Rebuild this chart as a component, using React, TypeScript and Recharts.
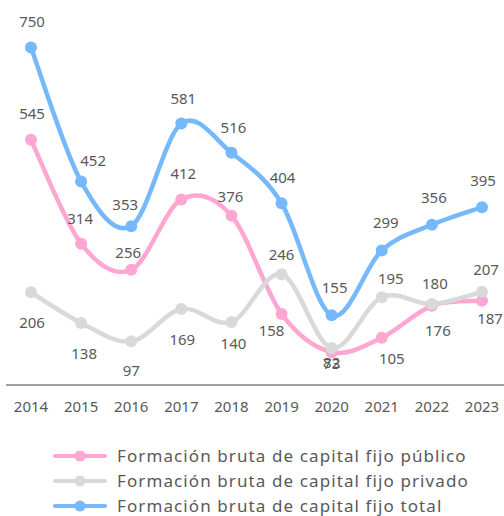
import React from 'react';
import { LineChart, Line, XAxis, YAxis, LabelList } from 'recharts';

const years = ['2014', '2015', '2016', '2017', '2018', '2019', '2020', '2021', '2022', '2023'];
const publico = [545, 314, 256, 412, 376, 158, 73, 105, 176, 187];
const privado = [206, 138, 97, 169, 140, 246, 82, 195, 180, 207];
const total = [750, 452, 353, 581, 516, 404, 155, 299, 356, 395];
const seriesNames = [
  'Formación bruta de capital fijo público',
  'Formación bruta de capital fijo privado',
  'Formación bruta de capital fijo total',
];

// label placement offsets (dx, dy) relative to each point
const pubLabelOffsets = [[1, -27], [-1, -26], [-3, -18], [2, -27], [-1, -20], [-10, 16], [0, 11], [10, 20], [6, 24], [8, 17]];
const privLabelOffsets = [[1, 30], [3, 30], [0, 29], [1, 30], [2, 21], [0, -20], [0, 14], [9, -19], [3, -21], [4, -23]];
const totLabelOffsets = [[1, -27], [12, -22], [-6, -22], [2, -26], [2, -26], [1, -26], [3, -28], [4, -28], [2, -28], [1, -27]];

const data = years.map((y, i) => ({ year: y, publico: publico[i], privado: privado[i], total: total[i] }));

const COLORS = ['#FFA6D3', '#D9D9D9', '#76B8FC'];
const TEXT = '#595959';
const FONT = '"Noto Sans", sans-serif';

// Catmull-Rom style smoothing (similar to spreadsheet smoothed lines)
const smoothCurve: any = (context: any) => {
  let pts: number[][] = [];
  return {
    areaStart() {},
    areaEnd() {},
    lineStart() { pts = []; },
    point(x: number, y: number) { pts.push([+x, +y]); },
    lineEnd() {
      if (!pts.length) return;
      context.moveTo(pts[0][0], pts[0][1]);
      const k = 1 / 6;
      for (let i = 0; i < pts.length - 1; i++) {
        const p0 = pts[i - 1] || pts[i];
        const p1 = pts[i];
        const p2 = pts[i + 1];
        const p3 = pts[i + 2] || pts[i + 1];
        context.bezierCurveTo(
          p1[0] + (p2[0] - p0[0]) * k, p1[1] + (p2[1] - p0[1]) * k,
          p2[0] - (p3[0] - p1[0]) * k, p2[1] - (p3[1] - p1[1]) * k,
          p2[0], p2[1]
        );
      }
    },
  };
};

const makeLabel = (offsets: number[][]) => (props: any) => {
  const { x, y, value, index } = props;
  const [dx, dy] = offsets[index] || [0, -20];
  return (
    <text x={x + dx} y={y + dy} textAnchor="middle" dominantBaseline="central" fill={TEXT} fontSize={15} fontFamily={FONT}>
      {value}
    </text>
  );
};

const LegendBox = () => (
  <div style={{ position: 'absolute', left: 53, top: 443, fontFamily: FONT, fontSize: 17, letterSpacing: 1.1, color: TEXT }}>
    {seriesNames.map((n, i) => (
      <div key={n} style={{ display: 'flex', alignItems: 'center', height: 25, whiteSpace: 'nowrap' }}>
        <svg width={54} height={12} style={{ marginRight: 10 }}>
          <line x1={2} y1={6} x2={52} y2={6} stroke={COLORS[i]} strokeWidth={4} strokeLinecap="round" />
          <circle cx={27} cy={6} r={5.5} fill={COLORS[i]} />
        </svg>
        <span>{n}</span>
      </div>
    ))}
  </div>
);

export default function App() {
  return (
    <div style={{ position: 'absolute', left: 0, top: 0, width: 504, height: 516, background: '#fff' }}>
      <LineChart width={504} height={516} data={data} margin={{ top: 25, right: 0, bottom: 0, left: 6 }}>
        <XAxis
          dataKey="year"
          height={131}
          tickSize={0}
          tickMargin={16}
          tickLine={false}
          axisLine={{ stroke: '#7F7F7F', strokeWidth: 1.5 }}
          padding={{ left: 25, right: 22 }}
          tick={{ fill: TEXT, fontSize: 15, fontFamily: FONT }}
          interval={0}
        />
        <YAxis hide domain={[0, 800]} />
        <Line dataKey="publico" type={smoothCurve} stroke={COLORS[0]} strokeWidth={4.5} dot={{ r: 6, fill: COLORS[0], stroke: 'none' }} activeDot={false} isAnimationActive={false}>
          <LabelList dataKey="publico" content={makeLabel(pubLabelOffsets)} />
        </Line>
        <Line dataKey="privado" type={smoothCurve} stroke={COLORS[1]} strokeWidth={4.5} dot={{ r: 6, fill: COLORS[1], stroke: 'none' }} activeDot={false} isAnimationActive={false}>
          <LabelList dataKey="privado" content={makeLabel(privLabelOffsets)} />
        </Line>
        <Line dataKey="total" type={smoothCurve} stroke={COLORS[2]} strokeWidth={4.5} dot={{ r: 6, fill: COLORS[2], stroke: 'none' }} activeDot={false} isAnimationActive={false}>
          <LabelList dataKey="total" content={makeLabel(totLabelOffsets)} />
        </Line>
      </LineChart>
      <LegendBox />
    </div>
  );
}
